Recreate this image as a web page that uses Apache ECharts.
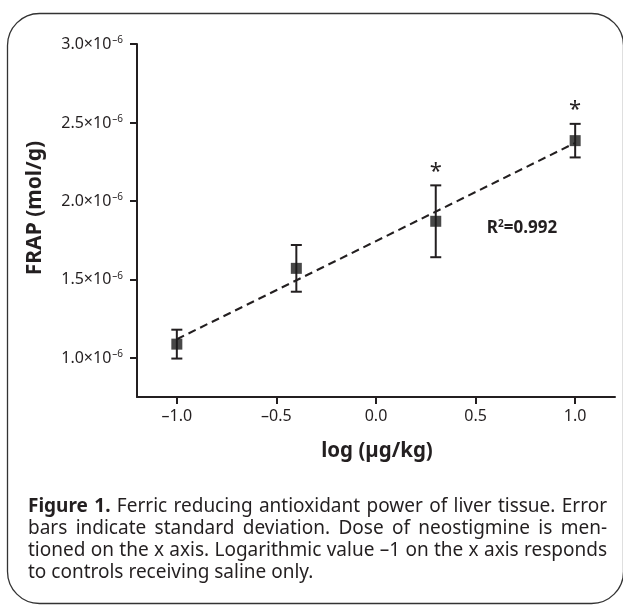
<!DOCTYPE html>
<html>
<head>
<meta charset="utf-8">
<script src="https://cdn.jsdelivr.net/npm/echarts@6/dist/echarts.min.js"></script>
<style>
html,body{margin:0;padding:0;background:#fff;}
#chart{width:623px;height:605px;}
</style>
</head>
<body>
<div id="chart"></div>
<script>
// ---- data (FRAP values in units of 10^-6 mol/g) ----
const xTickValues = [-1.0, -0.5, 0.0, 0.5, 1.0];
const yTickValues = [1.0, 1.5, 2.0, 2.5, 3.0];
const doses = [-1.0, -0.4, 0.3, 1.0];            // log(µg/kg)
const frapMean = [1.087, 1.570, 1.870, 2.384];
const frapSD = [0.092, 0.149, 0.229, 0.107];
const significant = [false, false, true, true];
const fitLine = [[-1.0, 1.118], [1.0, 2.370]];
const xName = 'log (µg/kg)';
const yName = 'FRAP (mol/g)';
const captionBold = 'Figure 1.';
const captionLines = [
  'Figure 1. Ferric reducing antioxidant power of liver tissue. Error',
  'bars indicate standard deviation. Dose of neostigmine is men-',
  'tioned on the x axis. Logarithmic value \u20131 on the x axis responds',
  'to controls receiving saline only.'
];

const FONT = '"Noto Sans", "Open Sans", sans-serif';
const INK = '#231f20';

function fmtNum(v) {
  const s = Math.abs(v).toFixed(1);
  return (v < 0 ? '\u2013' : '') + s;
}

// ---- caption layout (justified) ----
const measureCtx = document.createElement('canvas').getContext('2d');
function wWidth(word, bold, fs) {
  measureCtx.font = (bold ? 'bold ' : '') + fs + 'px ' + FONT;
  return measureCtx.measureText(word).width;
}
const capLeft = 28, capRight = 607, capWidth = capRight - capLeft;
const boldWords = captionBold.split(' ');
const lineWords = captionLines.map((ln, li) => ln.split(' ').map((w, wi) => ({
  text: w, bold: li === 0 && wi < boldWords.length
})));
function naturalWidth(words, fs) {
  let s = 0;
  words.forEach(w => s += wWidth(w.text, w.bold, fs));
  return s + (words.length - 1) * wWidth(' ', false, fs);
}
let capFs = 20;
while (capFs > 12 && Math.max(...lineWords.slice(0, -1).map(ws => naturalWidth(ws, capFs))) > capWidth) capFs -= 0.25;
const capY = [507, 529, 551, 573];
const captionGraphics = [];
lineWords.forEach((words, li) => {
  const widths = words.map(w => wWidth(w.text, w.bold, capFs));
  const total = widths.reduce((a, b) => a + b, 0);
  const last = li === lineWords.length - 1;
  const gap = last ? wWidth(' ', false, capFs) : (capWidth - total) / (words.length - 1);
  let x = capLeft;
  words.forEach((w, wi) => {
    captionGraphics.push({
      type: 'text', x: x, y: capY[li],
      style: {
        text: w.text, fill: INK, font: (w.bold ? 'bold ' : '') + capFs + 'px ' + FONT,
        textAlign: 'left', textVerticalAlign: 'middle'
      }
    });
    x += widths[wi] + gap;
  });
});

const chart = echarts.init(document.getElementById('chart'), null, {renderer: 'canvas'});

const errData = doses.map((d, i) => [d, frapMean[i] - frapSD[i], frapMean[i] + frapSD[i], significant[i] ? 1 : 0]);
const pointData = doses.map((d, i) => [d, frapMean[i]]);

const option = {
  backgroundColor: '#fff',
  animation: false,
  grid: {left: 137, top: 44, right: 8, bottom: 208, containLabel: false},
  xAxis: {
    type: 'value', min: -1.2, max: 1.2,
    axisLine: {show: true, onZero: false, lineStyle: {color: INK, width: 2}},
    axisTick: {show: true, length: 7, lineStyle: {color: INK, width: 2}, customValues: xTickValues},
    axisLabel: {
      color: INK, fontFamily: FONT, fontSize: 16, margin: 11,
      customValues: xTickValues, formatter: v => fmtNum(v)
    },
    splitLine: {show: false}
  },
  yAxis: {
    type: 'value', min: 0.75, max: 3.0,
    axisLine: {show: true, onZero: false, lineStyle: {color: INK, width: 2}},
    axisTick: {show: true, length: 7, lineStyle: {color: INK, width: 2}, customValues: yTickValues},
    axisLabel: {
      color: INK, fontFamily: FONT, fontSize: 16, margin: 14,
      customValues: yTickValues,
      formatter: v => '{a|' + v.toFixed(1) + '×10}{s|\u20136}',
      rich: {
        a: {fontFamily: FONT, fontSize: 16, color: INK, verticalAlign: 'bottom'},
        s: {fontFamily: FONT, fontSize: 10, color: INK, verticalAlign: 'bottom', padding: [0, 0, 7, 1]}
      }
    },
    splitLine: {show: false}
  },
  series: [
    {
      type: 'line', data: fitLine, symbol: 'none', z: 1,
      lineStyle: {color: INK, width: 2, type: [8, 5]}
    },
    {
      type: 'custom', z: 2, data: errData,
      renderItem: function (params, api) {
        const x = api.value(0);
        const top = api.coord([x, api.value(2)]);
        const bot = api.coord([x, api.value(1)]);
        const cap = 5.5;
        const st = {stroke: INK, lineWidth: 2};
        const children = [
          {type: 'line', shape: {x1: top[0], y1: top[1], x2: bot[0], y2: bot[1]}, style: st},
          {type: 'line', shape: {x1: top[0] - cap, y1: top[1], x2: top[0] + cap, y2: top[1]}, style: st},
          {type: 'line', shape: {x1: bot[0] - cap, y1: bot[1], x2: bot[0] + cap, y2: bot[1]}, style: st}
        ];
        if (api.value(3) === 1) {
          children.push({
            type: 'text', x: top[0], y: top[1] - 14,
            style: {text: '*', fill: INK, font: '22px ' + FONT, textAlign: 'center', textVerticalAlign: 'middle'}
          });
        }
        return {type: 'group', children: children};
      }
    },
    {
      type: 'scatter', data: pointData, symbol: 'rect', symbolSize: 11, z: 3,
      itemStyle: {color: '#1a1a1a'}
    }
  ],
  graphic: [
    {
      type: 'rect', z: -1, silent: true,
      shape: {x: 7.5, y: 13.5, width: 616, height: 590, r: 32},
      style: {fill: 'none', stroke: '#333', lineWidth: 1.3}
    },
    {
      type: 'text', x: 35, y: 208, rotation: Math.PI / 2,
      style: {text: yName, fill: INK, font: 'bold 21px ' + FONT, textAlign: 'center', textVerticalAlign: 'middle'}
    },
    {
      type: 'text', x: 377, y: 451,
      style: {text: xName, fill: INK, font: 'bold 20.5px ' + FONT, textAlign: 'center', textVerticalAlign: 'middle'}
    },
    {
      type: 'text', x: 522, y: 228,
      style: {
        text: '{b|R}{s|2}{b|=0.992}',
        textAlign: 'center', textVerticalAlign: 'middle',
        rich: {
          b: {fontFamily: FONT, fontWeight: 'bold', fontSize: 17, fill: INK, verticalAlign: 'bottom'},
          s: {fontFamily: FONT, fontWeight: 'bold', fontSize: 10, fill: INK, verticalAlign: 'bottom', padding: [0, 0, 7, 0]}
        }
      }
    }
  ].concat(captionGraphics)
};
chart.setOption(option);
</script>
</body>
</html>
